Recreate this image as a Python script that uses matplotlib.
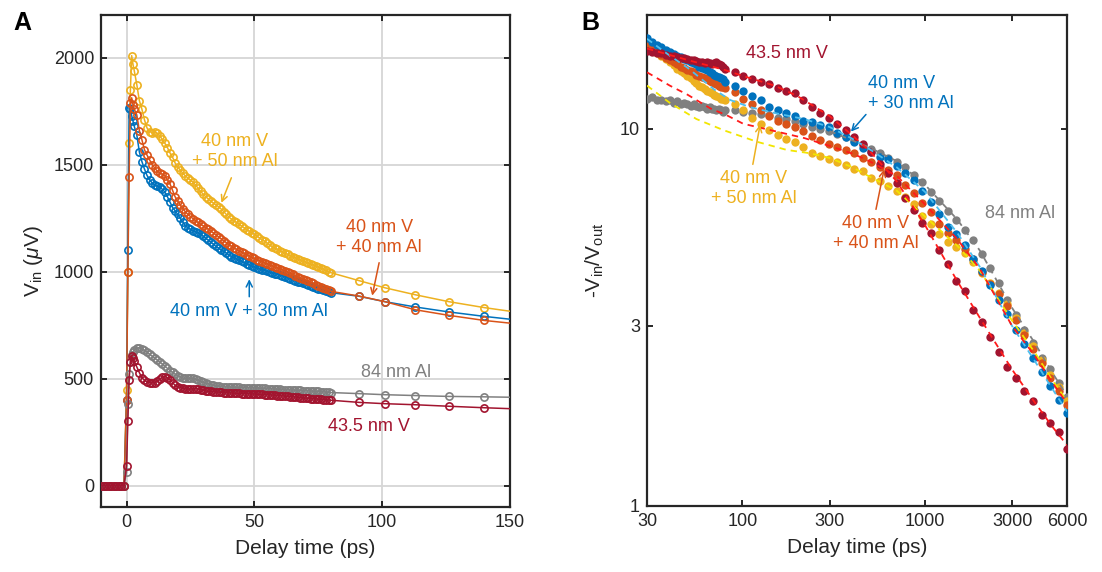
import matplotlib
matplotlib.use('Agg')
import matplotlib.pyplot as plt
from matplotlib.ticker import FixedLocator, NullLocator, FixedFormatter

plt.rcParams['font.family'] = ['Liberation Sans', 'DejaVu Sans']
plt.rcParams['mathtext.fontset'] = 'custom'
plt.rcParams['mathtext.rm'] = 'Liberation Sans'
plt.rcParams['mathtext.it'] = 'Liberation Sans:italic'

# ---------------- Panel A data ----------------
t_a = [-10, -9, -8, -7, -6, -5, -4, -3, -2, -1,
       0, 0.5, 1, 1.5, 2, 2.5, 3,
       4, 5, 6, 7, 8, 9, 10,
       11, 12, 13, 14, 15, 16, 17, 18, 19, 20,
       21, 22, 23, 24, 25, 26, 27, 28, 29, 30,
       31, 32, 33, 34, 35, 36, 37, 38, 39, 40,
       41, 42, 43, 44, 45, 46, 47, 48, 49, 50,
       51, 52, 53, 54, 55, 56, 57, 58, 59, 60,
       61, 62, 63, 64, 65, 66, 67, 68, 69, 70,
       71, 72, 73, 74, 75, 76, 77, 78, 79, 80,
       91, 101, 113, 126, 140, 156]

vin_v40_al50 = [0, 0, 0, 0, 0, 0, 0, 0, 0, 0,
                449, 1000, 1600, 1850, 2010, 1970, 1940,
                1875, 1800, 1760, 1710, 1672, 1655, 1650,
                1652, 1648, 1635, 1618, 1600, 1580, 1555, 1535, 1508, 1490,
                1475, 1460, 1448, 1438, 1428, 1418, 1405, 1390, 1375, 1362,
                1350, 1340, 1330, 1320, 1312, 1304, 1293, 1281, 1268, 1256,
                1246, 1238, 1230, 1222, 1214, 1205, 1197, 1189, 1182, 1175,
                1167, 1158, 1150, 1142, 1133, 1125, 1117, 1111, 1104, 1098,
                1092, 1087, 1081, 1075, 1070, 1066, 1060, 1055, 1050, 1045,
                1040, 1035, 1032, 1027, 1022, 1017, 1012, 1006, 1000, 995,
                958, 925, 892, 860, 832, 805]

vin_v40_al30 = [0, 0, 0, 0, 0, 0, 0, 0, 0, 0,
                400, 1100, 1765, 1760, 1730, 1705, 1680,
                1640, 1560, 1515, 1480, 1450, 1430, 1415,
                1405, 1400, 1397, 1385, 1372, 1350, 1325, 1300, 1285, 1268,
                1250, 1232, 1215, 1205, 1198, 1192, 1187, 1182, 1175, 1165,
                1156, 1147, 1138, 1128, 1118, 1110, 1102, 1095, 1087, 1079,
                1071, 1066, 1060, 1054, 1048, 1043, 1037, 1032, 1027, 1022,
                1018, 1014, 1010, 1006, 1002, 998, 994, 991, 988, 985,
                981, 977, 972, 968, 963, 958, 954, 950, 946, 941,
                937, 933, 929, 925, 921, 918, 914, 910, 906, 902,
                885, 860, 835, 812, 791, 770]

vin_v40_al40 = [0, 0, 0, 0, 0, 0, 0, 0, 0, 0,
                400, 1000, 1444, 1790, 1813, 1780, 1760,
                1733, 1660, 1617, 1570, 1545, 1523, 1500,
                1485, 1470, 1462, 1455, 1448, 1430, 1410, 1380, 1350, 1330,
                1312, 1295, 1280, 1268, 1258, 1248, 1238, 1230, 1222, 1214,
                1206, 1198, 1190, 1181, 1172, 1163, 1154, 1145, 1136, 1127,
                1119, 1112, 1104, 1098, 1092, 1086, 1080, 1073, 1067, 1062,
                1057, 1052, 1047, 1042, 1037, 1032, 1027, 1022, 1018, 1014,
                1009, 1003, 998, 992, 987, 981, 976, 970, 965, 960,
                955, 950, 945, 940, 935, 930, 925, 920, 914, 908,
                886, 860, 822, 796, 772, 752]

vin_al84 = [0, 0, 0, 0, 0, 0, 0, 0, 0, 0,
            65, 380, 520, 580, 610, 625, 635,
            643, 645, 640, 632, 624, 614, 605,
            596, 587, 578, 568, 558, 548, 538, 529, 521, 514,
            508, 503, 501, 501, 502, 501, 498, 492, 487, 483,
            480, 476, 472, 469, 466, 464, 463, 462, 461, 461,
            460, 460, 459, 459, 458, 458, 457, 457, 457, 456,
            456, 455, 455, 454, 453, 453, 452, 451, 451, 450,
            449, 449, 448, 447, 447, 446, 445, 445, 444, 443,
            443, 442, 441, 440, 440, 439, 438, 437, 436, 435,
            430, 425, 421, 417, 415, 412]

vin_v435 = [0, 0, 0, 0, 0, 0, 0, 0, 0, 0,
            93, 300, 495, 580, 605, 595, 582,
            555, 528, 505, 492, 486, 482, 480,
            481, 488, 498, 508, 510, 505, 495, 482, 468, 462,
            458, 455, 452, 451, 451, 452, 453, 452, 449, 446,
            443, 441, 440, 439, 438, 437, 436, 435, 434, 433,
            433, 432, 432, 431, 430, 430, 429, 429, 428, 428,
            427, 427, 426, 425, 425, 424, 423, 422, 421, 420,
            419, 418, 417, 416, 415, 414, 412, 411, 410, 409,
            408, 407, 406, 405, 404, 403, 402, 401, 400, 399,
            389, 383, 378, 371, 364, 357]

# ---------------- Panel B data ----------------
t_b = [30, 32, 34, 36, 38, 40, 42, 44, 46, 48, 50, 52, 54, 56, 58,
       60, 62, 64, 66, 68, 70, 72, 74, 76, 78, 80,
       91, 101, 113, 126, 140, 156, 173, 193, 215, 239, 267, 297, 330, 368,
       410, 456, 508, 565, 629, 701, 780, 869, 967, 1077, 1199, 1335, 1486,
       1655, 1843, 2052, 2284, 2543, 2832, 3153, 3510, 3908, 4352, 4845,
       5395, 6000]

r_v435 = [16.1, 16.0, 15.9, 15.85, 15.7, 15.6, 15.6, 15.5, 15.4, 15.35, 15.3,
          15.2, 15.2, 15.1, 15.0, 15.0, 14.9, 15.0, 14.9, 14.8, 14.9, 15.0,
          14.8, 14.7, 14.6, 14.4,
          14.1, 13.8, 13.5, 13.3, 13.1, 12.85, 12.6, 12.4, 11.9, 11.4, 11.0,
          10.7, 10.3, 9.93, 9.52, 9.08, 8.65, 8.05, 7.63, 7.18, 6.54, 6.10,
          5.63, 5.29, 4.78, 4.37, 3.95, 3.72, 3.31, 3.08, 2.80, 2.56, 2.34,
          2.18, 2.02, 1.90, 1.74, 1.66, 1.57, 1.42]

r_v40_al30 = [17.4, 17.0, 16.7, 16.5, 16.2, 16.0, 15.8, 15.6, 15.5, 15.3, 15.2,
              15.0, 14.9, 14.8, 14.6, 14.5, 14.4, 14.3, 14.1, 14.0, 13.9, 13.8,
              13.7, 13.6, 13.5, 13.3,
              13.0, 12.6, 12.2, 11.9, 11.4, 11.2, 11.0, 10.8, 10.5, 10.4, 10.25,
              10.1, 9.75, 9.52, 9.2, 8.9, 8.65, 8.43, 8.3, 7.95, 7.65, 7.3,
              6.85, 6.4, 5.95, 5.5, 5.25, 4.92, 4.52, 4.2, 3.85, 3.52, 3.22,
              2.93, 2.68, 2.46, 2.26, 2.08, 1.91, 1.76]

r_v40_al40 = [16.7, 16.3, 16.0, 15.7, 15.4, 15.2, 15.0, 14.8, 14.6, 14.5, 14.3,
              14.2, 14.1, 13.9, 13.8, 13.7, 13.6, 13.5, 13.4, 13.3, 13.2, 13.1,
              13.0, 12.9, 12.9, 12.8,
              12.5, 12.0, 11.6, 11.2, 10.8, 10.5, 10.3, 10.1, 9.85, 9.55, 9.35,
              9.13, 8.96, 8.78, 8.6, 8.38, 8.15, 7.9, 7.75, 7.55, 7.1, 6.75,
              6.35, 6.0, 5.6, 5.3, 5.06, 4.8, 4.5, 4.17, 3.88, 3.64, 3.39,
              3.11, 2.84, 2.61, 2.39, 2.19, 2.02, 1.85]

r_v40_al50 = [16.6, 16.2, 15.9, 15.6, 15.3, 15.0, 14.7, 14.4, 14.2, 14.0, 13.8,
              13.6, 13.4, 13.2, 13.0, 12.9, 12.7, 12.6, 12.5, 12.4, 12.3, 12.2,
              12.1, 12.0, 11.95, 11.9,
              11.6, 11.2, 10.65, 10.3, 9.93, 9.64, 9.4, 9.2, 8.95, 8.6, 8.45,
              8.33, 8.18, 8.02, 7.82, 7.7, 7.42, 7.26, 7.03, 6.85, 6.6, 6.3,
              5.85, 5.6, 5.25, 5.0, 4.85, 4.68, 4.42, 4.15, 3.9, 3.67, 3.43,
              3.15, 2.88, 2.65, 2.43, 2.22, 2.07, 1.90]

r_al84 = [12.0, 12.1, 11.9, 11.9, 11.8, 11.9, 11.7, 11.8, 11.6, 11.7, 11.6,
          11.5, 11.6, 11.5, 11.4, 11.5, 11.4, 11.3, 11.4, 11.3, 11.3, 11.2,
          11.3, 11.2, 11.1, 11.2,
          11.2, 11.1, 11.0, 10.9, 10.85, 10.7, 10.6, 10.45, 10.3, 10.1, 10.0,
          9.85, 9.7, 9.5, 9.3, 9.05, 8.85, 8.6, 8.35, 8.18, 7.9, 7.55,
          7.2, 6.8, 6.41, 6.05, 5.74, 5.4, 5.06, 4.64, 4.28, 3.91, 3.51,
          3.21, 2.92, 2.7, 2.47, 2.3, 2.12, 1.95]

# fit curves (dashed)
fit_v435_t = [30, 50, 80, 100, 150, 200, 300, 400, 500, 700, 1000, 1500, 2000,
              3000, 4000, 5000, 6000]
fit_v435_r = [16.3, 15.2, 14.3, 13.8, 13.0, 12.2, 10.8, 9.6, 8.7, 7.25, 5.55,
              3.95, 3.15, 2.3, 1.88, 1.62, 1.45]

fit_al40_t = [30, 40, 50, 67, 82, 101, 150, 218, 300, 410, 500, 700, 1000,
              1500, 2000, 3000, 4000, 5000, 6000]
fit_al40_r = [14.1, 13.0, 12.3, 11.3, 10.85, 10.3, 9.85, 9.44, 9.0, 8.55, 8.18,
              7.5, 6.3, 5.1, 4.25, 3.0, 2.5, 2.12, 1.87]

fit_al30_t = [30, 40, 50, 60, 70, 86, 110, 150, 218, 300, 400, 500, 700, 1000,
              1500, 2000, 3000, 4000, 5000, 6000]
fit_al30_r = [17.3, 15.6, 14.5, 13.5, 12.7, 11.9, 11.4, 11.0, 10.6, 10.1, 9.4,
              8.8, 7.9, 6.8, 5.3, 4.3, 3.0, 2.42, 2.04, 1.78]

fit_al50_t = [30, 40, 56, 79, 120, 175, 236, 303, 400, 500, 700, 1000, 1500,
              2000, 3000, 4000, 5000, 6000]
fit_al50_r = [13.0, 11.7, 10.6, 9.9, 9.23, 8.78, 8.6, 8.35, 7.9, 7.45, 6.85,
              5.85, 4.9, 4.2, 3.1, 2.55, 2.15, 1.9]

fit_al84_t = [300, 500, 700, 1000, 1500, 2000, 3000, 4000, 5000, 6000]
fit_al84_r = [9.85, 8.9, 8.2, 7.1, 5.75, 4.75, 3.35, 2.7, 2.25, 1.96]

xticks_a = [0, 50, 100, 150]
yticks_a = [0, 500, 1000, 1500, 2000]
xticks_b = [30, 100, 300, 1000, 3000, 6000]
yticks_b = [1, 3, 10]

C_Y = '#EDB120'
C_B = '#0072BD'
C_O = '#D95319'
C_G = '#808080'
C_R = '#A2142F'
TXT = '#262626'

fig = plt.figure(figsize=(11.02, 5.72), dpi=100)
axA = fig.add_axes([101 / 1102, 1 - 507 / 572, 409 / 1102, 492 / 572])
axB = fig.add_axes([647 / 1102, 1 - 506 / 572, 420 / 1102, 491 / 572])

for ax in (axA, axB):
    for s in ax.spines.values():
        s.set_linewidth(1.6)
        s.set_color(TXT)
    ax.tick_params(which='both', direction='in', top=True, right=True,
                   length=4, width=1.4, color=TXT, labelcolor=TXT,
                   labelsize=13, pad=5)

# ---------------- Panel A ----------------
series_a = [(vin_v40_al50, C_Y), (vin_v40_al30, C_B), (vin_v40_al40, C_O),
            (vin_al84, C_G), (vin_v435, C_R)]
for i, (vals, c) in enumerate(series_a):
    axA.plot(t_a, vals, '-o', color=c, lw=1.1, ms=5.2, mfc='none', mec=c,
             mew=1.2, zorder=3 + i, clip_on=True)

axA.set_xlim(-10, 150)
axA.set_ylim(-100, 2200)
axA.xaxis.set_major_locator(FixedLocator(xticks_a))
axA.yaxis.set_major_locator(FixedLocator(yticks_a))
axA.grid(True, color='#d6d6d6', lw=1.3)
axA.set_axisbelow(True)
axA.set_xlabel('Delay time (ps)', fontsize=15, color=TXT, labelpad=6)
axA.set_ylabel(r'V$_{\rm in}$ ($\mu$V)', fontsize=15, color=TXT, labelpad=6)

arrow_kw = dict(arrowstyle='->', lw=1.1, shrinkA=0, shrinkB=0,
                mutation_scale=11)
axA.text(42.2, 1563, '40 nm V\n+ 50 nm Al', color=C_Y, fontsize=13,
         ha='center', va='center', linespacing=1.25, zorder=10)
axA.annotate('', xy=(37.1, 1322), xytext=(41.0, 1439),
             arrowprops=dict(color=C_Y, **arrow_kw), zorder=10)
axA.text(98.8, 1159, '40 nm V\n+ 40 nm Al', color=C_O, fontsize=13,
         ha='center', va='center', linespacing=1.25, zorder=10)
axA.annotate('', xy=(96.1, 888), xytext=(98.8, 1042),
             arrowprops=dict(color=C_O, **arrow_kw), zorder=10)
axA.text(48, 813, '40 nm V + 30 nm Al', color=C_B, fontsize=13,
         ha='center', va='center', zorder=10)
axA.annotate('', xy=(48, 965), xytext=(48, 883),
             arrowprops=dict(color=C_B, **arrow_kw), zorder=10)
axA.text(105.5, 528, '84 nm Al', color=C_G, fontsize=13,
         ha='center', va='center', zorder=10)
axA.text(95, 276, '43.5 nm V', color=C_R, fontsize=13,
         ha='center', va='center', zorder=10)

# ---------------- Panel B ----------------
series_b = [(r_al84, C_G), (r_v40_al50, C_Y), (r_v40_al40, C_O),
            (r_v40_al30, C_B), (r_v435, C_R)]
for i, (vals, c) in enumerate(series_b):
    axB.plot(t_b, vals, 'o', ls='none', color=c, ms=6.0, mew=0,
             zorder=3 + i)

dash = (0, (3.5, 2.8))
fits = [(fit_al50_t, fit_al50_r, '#F2E600'),
        (fit_al84_t, fit_al84_r, C_G),
        (fit_al30_t, fit_al30_r, '#4DBEEE'),
        (fit_al40_t, fit_al40_r, '#FF1A1A'),
        (fit_v435_t, fit_v435_r, '#FF1A1A')]
for i, (ft, fr, c) in enumerate(fits):
    axB.plot(ft, fr, ls=dash, color=c, lw=1.3, zorder=10 + i)

axB.set_xscale('log')
axB.set_yscale('log')
axB.set_xlim(30, 6000)
axB.set_ylim(1, 20)
axB.xaxis.set_major_locator(FixedLocator(xticks_b))
axB.xaxis.set_major_formatter(FixedFormatter([str(v) for v in xticks_b]))
axB.xaxis.set_minor_locator(NullLocator())
axB.yaxis.set_major_locator(FixedLocator(yticks_b))
axB.yaxis.set_major_formatter(FixedFormatter([str(v) for v in yticks_b]))
axB.yaxis.set_minor_locator(NullLocator())
axB.set_xlabel('Delay time (ps)', fontsize=15, color=TXT, labelpad=6)
axB.set_ylabel(r'-V$_{\rm in}$/V$_{\rm out}$', fontsize=15, color=TXT,
               labelpad=10)

axB.text(176, 15.8, '43.5 nm V', color=C_R, fontsize=13,
         ha='center', va='center', zorder=20)
axB.text(485, 12.4, '40 nm V\n+ 30 nm Al', color=C_B, fontsize=13,
         ha='left', va='center', linespacing=1.25, zorder=20)
axB.annotate('', xy=(393, 9.82), xytext=(475, 10.9),
             arrowprops=dict(color=C_B, **arrow_kw), zorder=20)
axB.text(115, 6.93, '40 nm V\n+ 50 nm Al', color=C_Y, fontsize=13,
         ha='center', va='center', linespacing=1.25, zorder=20)
axB.annotate('', xy=(125, 10.25), xytext=(114, 8.04),
             arrowprops=dict(color=C_Y, **arrow_kw), zorder=20)
axB.text(539, 5.27, '40 nm V\n+ 40 nm Al', color=C_O, fontsize=13,
         ha='center', va='center', linespacing=1.25, zorder=20)
axB.annotate('', xy=(597, 7.8), xytext=(539, 6.11),
             arrowprops=dict(color=C_O, **arrow_kw), zorder=20)
axB.text(3303, 5.97, '84 nm Al', color=C_G, fontsize=13,
         ha='center', va='center', zorder=20)

fig.text(22 / 1102, 1 - 23 / 572, 'A', fontsize=18, fontweight='bold',
         ha='center', va='center', color='black')
fig.text(590 / 1102, 1 - 23 / 572, 'B', fontsize=18, fontweight='bold',
         ha='center', va='center', color='black')

fig.savefig('out.png', dpi=100)
